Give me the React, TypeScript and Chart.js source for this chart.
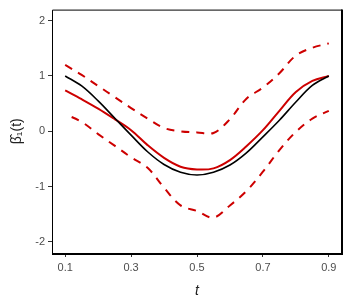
import React, { useEffect, useRef } from "react";
import { Chart, registerables } from "chart.js";

Chart.register(...registerables);

const T = [0.1, 0.15, 0.2, 0.25, 0.3, 0.35, 0.4, 0.45, 0.5, 0.55, 0.6, 0.65, 0.7, 0.75, 0.8, 0.85, 0.9];
const trueBeta = [1.0, 0.82, 0.55, 0.24, -0.07, -0.37, -0.6, -0.74, -0.79, -0.74, -0.61, -0.39, -0.1, 0.2, 0.53, 0.83, 1.0];
const estBeta = [0.74, 0.58, 0.41, 0.22, 0.02, -0.25, -0.48, -0.64, -0.69, -0.67, -0.52, -0.27, 0.02, 0.37, 0.71, 0.91, 1.0];
const upperBand = [1.2, 1.02, 0.82, 0.62, 0.42, 0.23, 0.06, 0.0, -0.02, -0.03, 0.22, 0.59, 0.79, 1.05, 1.37, 1.51, 1.59];
const lowerBand = [0.31, 0.17, -0.05, -0.26, -0.47, -0.66, -1.02, -1.34, -1.44, -1.56, -1.34, -1.08, -0.73, -0.34, -0.01, 0.23, 0.37];

const X_TICKS = [0.1, 0.3, 0.5, 0.7, 0.9];
const Y_TICKS = [-2, -1, 0, 1, 2];

const RED = "#CD0000";

const pts = (ys: number[]) => T.map((x, i) => ({ x, y: ys[i] }));

export default function App() {
  const ref = useRef<HTMLCanvasElement | null>(null);
  useEffect(() => {
    document.body.style.margin = "0";
    const ctx = ref.current!.getContext("2d")!;
    const boxPlugin = {
      id: "box",
      afterDatasetsDraw(chart: any) {
        const { left, right, top, bottom } = chart.chartArea;
        const c = chart.ctx;
        c.save();
        c.strokeStyle = "#000";
        c.lineWidth = 1;
        c.beginPath();
        c.moveTo(left + 0.5, bottom);
        c.lineTo(left + 0.5, top + 0.5);
        c.lineTo(right, top + 0.5);
        c.stroke();
        c.lineWidth = 2;
        c.beginPath();
        c.moveTo(right, top);
        c.lineTo(right, bottom + 1);
        c.moveTo(left, bottom + 1);
        c.lineTo(right + 1, bottom + 1);
        c.stroke();
        c.restore();
      },
    };
    const chart = new Chart(ctx, {
      type: "line",
      data: {
        datasets: [
          { data: pts(upperBand), borderColor: RED, borderWidth: 2, borderDash: [8, 7], pointRadius: 0, tension: 0.35, fill: false },
          { data: pts(lowerBand), borderColor: RED, borderWidth: 2, borderDash: [8, 7], borderDashOffset: 8, pointRadius: 0, tension: 0.35, fill: false },
          { data: pts(trueBeta), borderColor: "#000", borderWidth: 1.6, pointRadius: 0, tension: 0.35, fill: false },
          { data: pts(estBeta), borderColor: RED, borderWidth: 2, pointRadius: 0, tension: 0.35, fill: false },
        ],
      },
      options: {
        responsive: false,
        animation: false,
        layout: { padding: { top: 7, right: 8, left: 0, bottom: 0 } },
        plugins: { legend: { display: false }, tooltip: { enabled: false } },
        scales: {
          x: {
            type: "linear",
            min: 0.06,
            max: 0.94,
            afterBuildTicks: (s: any) => {
              s.ticks = X_TICKS.map((v) => ({ value: v }));
            },
            afterFit: (s: any) => {
              s.height = 47;
            },
            grid: { display: true, drawOnChartArea: false, drawTicks: true, tickLength: 4, color: "#333" },
            border: { display: false },
            ticks: {
              color: "#4D4D4D",
              font: { family: "Liberation Sans", size: 11 },
              padding: 4,
              maxRotation: 0,
              callback: (v: any) => Number(v).toFixed(1),
            },
            title: {
              display: true,
              text: "t",
              color: "#222",
              font: { family: "Liberation Sans", size: 14, style: "italic" },
              padding: { top: 7, bottom: 0 },
            },
          },
          y: {
            min: -2.2,
            max: 2.2,
            afterBuildTicks: (s: any) => {
              s.ticks = Y_TICKS.map((v) => ({ value: v }));
            },
            afterFit: (s: any) => {
              s.width = 52;
            },
            grid: { display: true, drawOnChartArea: false, drawTicks: true, tickLength: 4, color: "#333" },
            border: { display: false },
            ticks: {
              color: "#4D4D4D",
              font: { family: "Liberation Sans", size: 11 },
              padding: 3,
              callback: (v: any) => String(v),
            },
            title: {
              display: true,
              text: "β̂₁(t)",
              color: "#222",
              font: { family: "Liberation Sans", size: 14 },
              padding: { top: 9, bottom: 0 },
            },
          },
        },
      },
      plugins: [boxPlugin],
    } as any);
    return () => chart.destroy();
  }, []);
  return <canvas ref={ref} width={350} height={300} style={{ display: "block" }} />;
}
